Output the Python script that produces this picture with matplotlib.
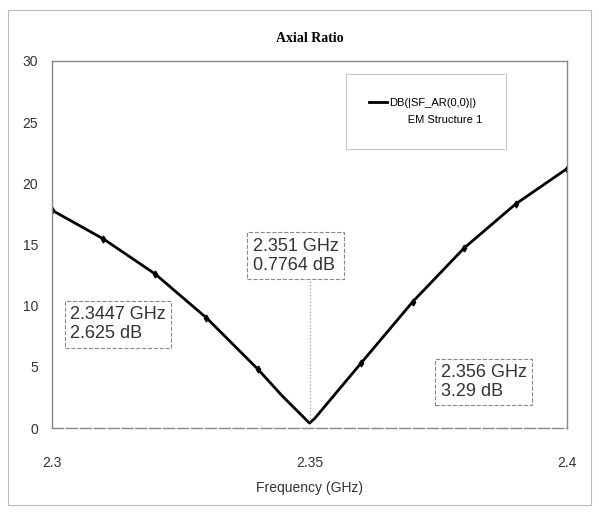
#!/usr/bin/env python3

import matplotlib
from matplotlib import pyplot as plt
from matplotlib.lines import Line2D

matplotlib.rcParams["font.family"] = ["Liberation Sans Narrow", "Liberation Sans", "DejaVu Sans"]

# sweep points (GHz) and axial ratio (dB)
freq = [2.30, 2.31, 2.32, 2.33, 2.34, 2.3447, 2.35, 2.351, 2.356, 2.36, 2.37, 2.38, 2.39, 2.40]
ar_db = [17.8, 15.45, 12.6, 9.0, 4.8, 2.625, 0.4, 0.7764, 3.29, 5.3, 10.3, 14.7, 18.3, 21.2]

# markers shown on the trace
mark_freq = [2.3447, 2.351, 2.356]
mark_db = [2.625, 0.7764, 3.29]
mark_text = ["2.3447 GHz\n2.625 dB", "2.351 GHz\n0.7764 dB", "2.356 GHz\n3.29 dB"]
mark_box = [(2.3035, 7.0), (2.339, 12.6), (2.3755, 2.3)]

yticks = [0, 5, 10, 15, 20, 25, 30]
xticks = [2.3, 2.35, 2.4]
xtick_labels = ["2.3", "2.35", "2.4"]

fig = plt.figure(figsize=(5.99, 5.15), dpi=100)
ax = fig.add_axes([0.0868, 0.1689, 0.8598, 0.7127])

grid = [f for f in freq if abs(f * 100 - round(f * 100)) < 1e-6 and f != 2.35]
grid_db = [d for f, d in zip(freq, ar_db) if f in grid]
ax.plot(freq, ar_db, "-", color="black", lw=2.0)
ax.plot(grid, grid_db, "d", color="black", ms=3.5)

for txt, (bx, by) in zip(mark_text, mark_box):
    ax.text(bx, by, txt, fontsize=13, color="#333333", va="bottom", ha="left",
            linespacing=1.15,
            bbox=dict(boxstyle="square,pad=0.3", fc="white", ec="#888888", lw=0.8, ls="--"))

# leader for the centre marker
ax.plot([2.3500, 2.3500], [12.3, 0.6], ":", color="#999999", lw=0.9)

ax.set_xlim(2.3, 2.4)
ax.set_ylim(0, 30)
ax.set_xticks(xticks)
ax.set_xticklabels(xtick_labels)
ax.set_yticks(yticks)
ax.tick_params(axis="y", length=0, labelsize=10, colors="#333333", pad=10)
ax.tick_params(axis="x", length=0, labelsize=10, colors="#333333", pad=20)
for s in ax.spines.values():
    s.set_color("#888888")
    s.set_linewidth(1.0)
ax.spines["bottom"].set_linestyle((0, (8, 2)))

ax.set_xlabel("Frequency (GHz)", fontsize=10, color="#333333", labelpad=8)
ax.set_title("Axial Ratio", fontsize=10, fontweight="bold", family="Liberation Serif", pad=14)

handles = [Line2D([], [], color="black", lw=2.0), Line2D([], [], color="none")]
labels = ["DB(|SF_AR(0,0)|)", "      EM Structure 1"]
leg = ax.legend(handles, labels, loc="upper right", bbox_to_anchor=(0.885, 0.97),
                fontsize=8, frameon=True, handlelength=1.6, handletextpad=0.2,
                borderpad=1.8, labelspacing=0.7)
leg.get_frame().set_edgecolor("#bbbbbb")
leg.get_frame().set_linewidth(0.8)
leg.get_frame().set_boxstyle("square")

# outer frame of the scanned figure
fig.patches.append(plt.Rectangle((0.014, 0.02), 0.972, 0.96, transform=fig.transFigure,
                                 fill=False, ec="#bbbbbb", lw=0.8))

plt.savefig("out.png", dpi=100)
